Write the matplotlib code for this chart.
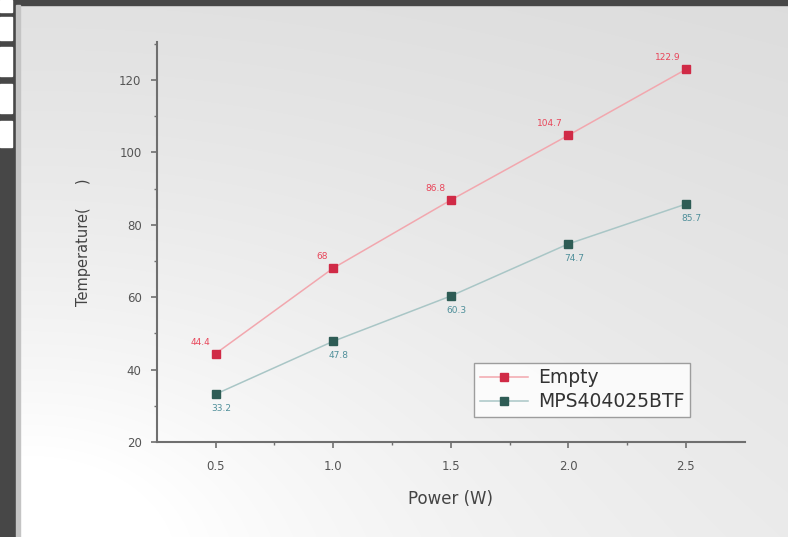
import numpy as np
import matplotlib
matplotlib.use("Agg")
import matplotlib.pyplot as plt
from matplotlib.patches import Rectangle

power = [0.5, 1.0, 1.5, 2.0, 2.5]
empty_temp = [44.4, 68, 86.8, 104.7, 122.9]
mps_temp = [33.2, 47.8, 60.3, 74.7, 85.7]
empty_labels = ["44.4", "68", "86.8", "104.7", "122.9"]
mps_labels = ["33.2", "47.8", "60.3", "74.7", "85.7"]
series_names = ["Empty", "MPS404025BTF"]

fig = plt.figure(figsize=(7.88, 5.37), dpi=100)

# background gradient panel
bg = fig.add_axes([0, 0, 1, 1], zorder=-10)
h, w = 537, 788
yy, xx = np.mgrid[0:h, 0:w]
d = np.sqrt(((xx - 30) / 1.4) ** 2 + (yy - h) ** 2)
val = 0.845 + 0.15 * np.exp(-d / 380.0) + 0.04 * (yy / h)
val = np.clip(val, 0, 1.0)
img = np.dstack([val, val, val])
bg.imshow(img, extent=[0, w, h, 0], aspect='auto')
bg.set_xlim(0, w); bg.set_ylim(h, 0)
bg.axis('off')
# dark frame
bg.add_patch(Rectangle((0, 0), 16, h, color='#474747'))
bg.add_patch(Rectangle((0, 0), w, 5, color='#474747'))
bg.add_patch(Rectangle((16, 5), 4, h, color='#c4c4c4'))
for (y0, y1) in [(0, 12), (17, 40), (47, 76), (84, 113), (121, 147)]:
    bg.add_patch(Rectangle((0, y0), 12, y1 - y0, color='white'))

ax = fig.add_axes([0.199, 0.177, 0.746, 0.745])
ax.patch.set_alpha(0)
red_line = '#f2a7ae'
red_mk = '#d02a46'
tl_line = '#a9c6c6'
tl_mk = '#2e5c55'
ax.plot(power, empty_temp, '-', color=red_line, lw=1.1, marker='s', ms=5.5,
        mfc=red_mk, mec=red_mk, label=series_names[0])
ax.plot(power, mps_temp, '-', color=tl_line, lw=1.1, marker='s', ms=5.5,
        mfc=tl_mk, mec=tl_mk, label=series_names[1])

for x, y, t in zip(power, empty_temp, empty_labels):
    ax.annotate(t, (x, y), xytext=(-4, 5), textcoords='offset points',
                ha='right', va='bottom', fontsize=6.5, color='#e8465a')
for x, y, t in zip(power, mps_temp, mps_labels):
    ax.annotate(t, (x, y), xytext=(-3, -7), textcoords='offset points',
                ha='left', va='top', fontsize=6.5, color='#4f8f9a')

ax.set_xlim(0.25, 2.75)
ax.set_ylim(20, 130.5)
ax.set_xticks([0.5, 1.0, 1.5, 2.0, 2.5])
ax.set_xticks([0.75, 1.25, 1.75, 2.25], minor=True)
ax.set_yticks([20, 40, 60, 80, 100, 120])
ax.set_yticks([30, 50, 70, 90, 110, 130], minor=True)
for s in ['top', 'right']:
    ax.spines[s].set_visible(False)
for s in ['left', 'bottom']:
    ax.spines[s].set_color('#6f6f6f')
    ax.spines[s].set_linewidth(1.5)
ax.tick_params(which='both', direction='out', colors='#6f6f6f', labelcolor='#555555', labelsize=8.5)
ax.tick_params(which='major', length=4, width=1.2)
ax.tick_params(axis='y', which='major', pad=7)
ax.tick_params(axis='x', which='major', pad=9)
ax.tick_params(which='minor', length=2.5, width=1)
ax.set_xlabel('Power (W)', fontsize=12, color='#444444', labelpad=12)
ax.set_ylabel('Temperature(     )', fontsize=10.5, color='#444444', labelpad=20)

leg = ax.legend(loc='lower right', bbox_to_anchor=(0.907, 0.063), fontsize=13.5,
                frameon=True, fancybox=False, handlelength=2.6, borderpad=0.3,
                labelspacing=0.25, handletextpad=0.5, borderaxespad=0)
leg.get_frame().set_edgecolor('#888888')
leg.get_frame().set_facecolor('white')
for t in leg.get_texts():
    t.set_color('#333333')

fig.savefig('out.png', dpi=100)
